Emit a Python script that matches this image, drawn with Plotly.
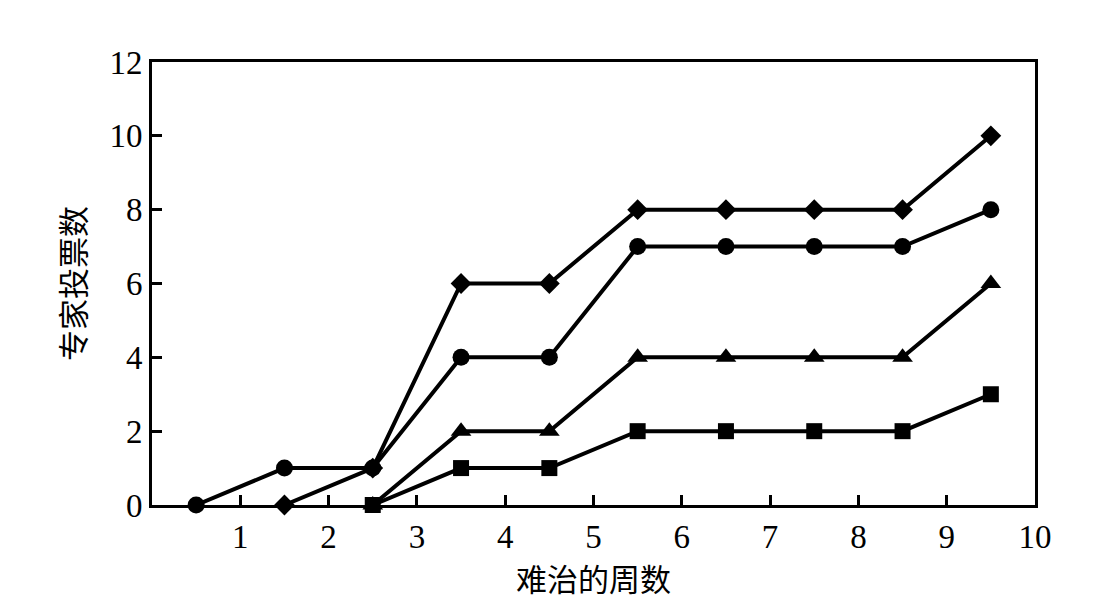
import plotly.graph_objects as go

weeks_diamond = [1.5, 2.5, 3.5, 4.5, 5.5, 6.5, 7.5, 8.5, 9.5]
votes_diamond = [0, 1, 6, 6, 8, 8, 8, 8, 10]

weeks_circle = [0.5, 1.5, 2.5, 3.5, 4.5, 5.5, 6.5, 7.5, 8.5, 9.5]
votes_circle = [0, 1, 1, 4, 4, 7, 7, 7, 7, 8]

weeks_triangle = [2.5, 3.5, 4.5, 5.5, 6.5, 7.5, 8.5, 9.5]
votes_triangle = [0, 2, 2, 4, 4, 4, 4, 6]

weeks_square = [2.5, 3.5, 4.5, 5.5, 6.5, 7.5, 8.5, 9.5]
votes_square = [0, 1, 1, 2, 2, 2, 2, 3]

x_ticks = [1, 2, 3, 4, 5, 6, 7, 8, 9, 10]
y_ticks = [0, 2, 4, 6, 8, 10, 12]

x_title = "难治的周数"
y_title = "专家投票数"

fig = go.Figure()

series = [
    (weeks_circle, votes_circle, "circle", 17),
    (weeks_diamond, votes_diamond, "diamond", 16),
    (weeks_triangle, votes_triangle, "triangle-up", 18),
    (weeks_square, votes_square, "square", 16),
]
for xs, ys, sym, size in series:
    fig.add_trace(go.Scatter(
        x=xs, y=ys, mode="lines+markers",
        line=dict(color="black", width=4),
        marker=dict(symbol=sym, size=size, color="black"),
        cliponaxis=False, showlegend=False,
    ))

tick_font = dict(family="Liberation Serif, Times New Roman, serif", size=33, color="black")
title_font = dict(family="Noto Sans CJK SC, sans-serif", size=31, color="black")

fig.update_layout(
    width=1112, height=610,
    margin=dict(l=152, r=77, t=62, b=105),
    paper_bgcolor="white", plot_bgcolor="white",
)
fig.update_xaxes(
    range=[0, 10], tickvals=x_ticks, ticktext=[str(v) for v in x_ticks],
    showgrid=False, zeroline=False,
    showline=True, linecolor="black", linewidth=3, mirror=True,
    ticks="inside", ticklen=10, tickwidth=3, tickcolor="black",
    tickfont=tick_font,
    title=dict(text=x_title, font=title_font, standoff=14),
)
fig.update_yaxes(
    range=[0, 12], tickvals=y_ticks, ticktext=[str(v) for v in y_ticks],
    showgrid=False, zeroline=False,
    showline=True, linecolor="black", linewidth=3, mirror=True,
    ticks="inside", ticklen=10, tickwidth=3, tickcolor="black",
    tickfont=tick_font,
    title=dict(text=y_title, font=title_font, standoff=15),
)

fig.write_html("out.html", config={"displayModeBar": False},
               post_script="document.body.style.margin='0';")
